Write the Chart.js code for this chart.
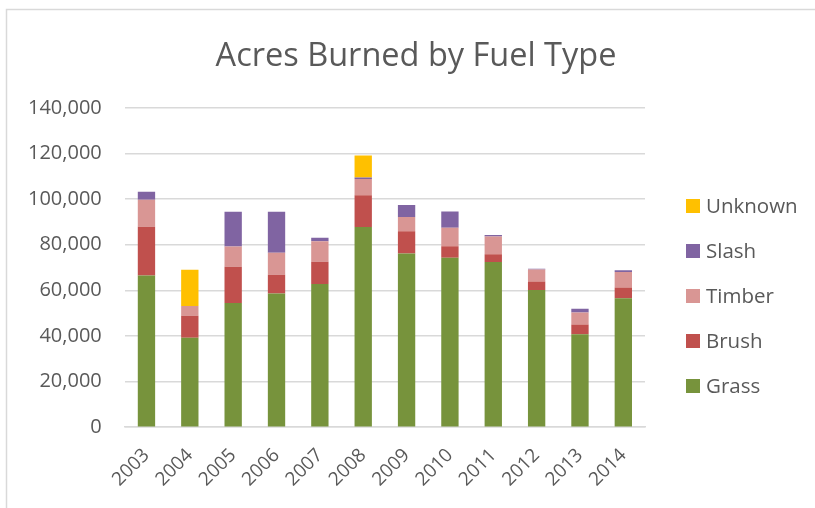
<!DOCTYPE html>
<html>
<head>
<meta charset="utf-8">
<script src="https://cdn.jsdelivr.net/npm/chart.js@4.4.1/dist/chart.umd.min.js"></script>
<style>
html,body{margin:0;padding:0;background:#fff;}
#wrap{position:relative;width:815px;height:508px;}
</style>
</head>
<body>
<div id="wrap"><canvas id="c" width="815" height="508"></canvas></div>
<script>
const years = ['2003','2004','2005','2006','2007','2008','2009','2010','2011','2012','2013','2014'];
const grass   = [66500, 39200, 54500, 58600, 62800, 87800, 76200, 74300, 72400, 60200, 40700, 56500];
const brush   = [21400,  9700, 15900,  8200,  9800, 13900,  9700,  5000,  3400,  3700,  4300,  4800];
const timber  = [11800,  4200,  8800,  9700,  9000,  7100,  6300,  8200,  7800,  5300,  5300,  6800];
const slash   = [ 3600,     0, 15300, 18000,  1500,   700,  5300,  7100,   700,   300,  1600,   700];
const unknown = [    0, 15900,     0,     0,     0,  9700,     0,     0,     0,     0,     0,     0];
const yTicks  = [0, 20000, 40000, 60000, 80000, 100000, 120000, 140000];
const titleText = 'Acres Burned by Fuel Type';

const FONT = "'Open Sans', 'Liberation Sans', sans-serif";
const TXT = '#595959';

const seriesDefs = [
  {label:'Grass', data:grass, color:'#77933C'},
  {label:'Brush', data:brush, color:'#C0504D'},
  {label:'Timber', data:timber, color:'#D99694'},
  {label:'Slash', data:slash, color:'#8064A2'},
  {label:'Unknown', data:unknown, color:'#FFC000'}
];

const legendPlugin = {
  id:'customLegend',
  afterDraw(chart){
    const ctx = chart.ctx;
    ctx.save();
    const items = chart.data.datasets.slice().reverse();
    const x0 = 686, y0 = 206, step = 45;
    ctx.font = "20.5px " + FONT;
    ctx.textBaseline = 'middle';
    ctx.textAlign = 'left';
    items.forEach((ds,i)=>{
      const y = y0 + i*step;
      ctx.fillStyle = ds.backgroundColor;
      ctx.fillRect(x0, y-7, 14, 14);
      ctx.fillStyle = TXT;
      ctx.fillText(ds.label, x0+20, y+1);
    });
    // title
    ctx.font = "32.5px " + FONT;
    ctx.textAlign = 'center';
    ctx.textBaseline = 'alphabetic';
    ctx.fillText(titleText, 416, 66);
    ctx.restore();
  }
};

const borderPlugin = {
  id:'outerBorder',
  beforeDraw(chart){
    const ctx = chart.ctx;
    ctx.save();
    ctx.fillStyle = '#fff';
    ctx.fillRect(0,0,chart.width,chart.height);
    ctx.strokeStyle = '#d9d9d9';
    ctx.lineWidth = 1.5;
    ctx.beginPath();
    ctx.moveTo(6.5, chart.height+5);
    ctx.lineTo(6.5, 9.5);
    ctx.lineTo(chart.width+5, 9.5);
    ctx.stroke();
    ctx.restore();
  }
};

new Chart(document.getElementById('c'), {
  type:'bar',
  data:{
    labels: years,
    datasets: seriesDefs.map(s=>({
      label:s.label, data:s.data, backgroundColor:s.color,
      borderWidth:0, barPercentage:0.4, categoryPercentage:1.0
    }))
  },
  options:{
    responsive:false,
    animation:false,
    layout:{padding:{left:5, right:170, top:108, bottom:0}},
    plugins:{
      legend:{display:false},
      tooltip:{enabled:false},
      title:{display:false}
    },
    scales:{
      x:{
        stacked:true,
        afterFit(scale){ scale.paddingLeft = 0; scale.paddingRight = 0; },
        grid:{display:false, drawTicks:false},
        border:{display:true, color:'#d9d9d9', width:1.5},
        ticks:{color:TXT, font:{family:FONT, size:19}, maxRotation:45, minRotation:45, padding:17}
      },
      y:{
        stacked:true, min:0, max:140000,
        afterBuildTicks(axis){ axis.ticks = yTicks.map(v=>({value:v})); },
        grid:{color:'#d9d9d9', lineWidth:1.5, drawTicks:false},
        border:{display:false},
        ticks:{color:TXT, font:{family:FONT, size:20}, padding:23,
          callback:(v)=>v.toLocaleString('en-US')}
      }
    }
  },
  plugins:[borderPlugin, legendPlugin]
});
</script>
</body>
</html>
